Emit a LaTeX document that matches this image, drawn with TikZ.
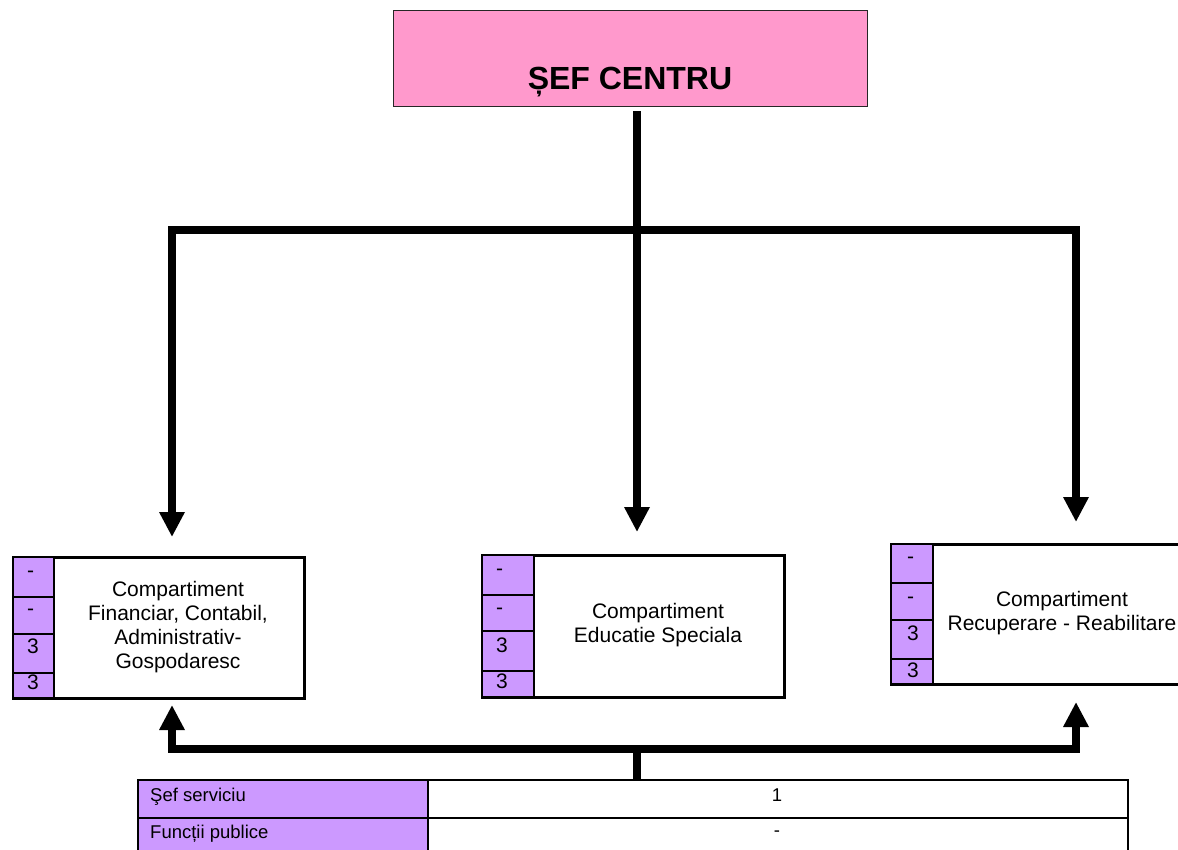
\documentclass[tikz,border=0pt]{standalone}
\usepackage{fontspec}
\setmainfont{Liberation Sans}
\usetikzlibrary{arrows.meta}
\definecolor{chiefpink}{HTML}{FF99CC}
\definecolor{cellviolet}{HTML}{CC99FF}

\begin{document}
\begin{tikzpicture}[x=1pt,y=-1pt,
  conn/.style={line width=7.5pt},
  arr/.style={line width=7.5pt,-{Triangle[width=24pt,length=25pt]}},
  chiefbox/.style={draw=black!85,line width=1.2pt,fill=chiefpink,anchor=north west,inner sep=0pt},
  unitbox/.style={draw=black,line width=2.5pt,fill=white,anchor=north west,inner sep=0pt},
  cell/.style={draw=black,line width=2pt,fill=cellviolet,anchor=north west,inner sep=0pt},
  tcell/.style={draw=black,line width=2pt,anchor=north west,inner sep=0pt,minimum height=38pt},
  unittext/.style={font=\fontsize{21}{24}\selectfont,align=center,inner sep=0pt},
  celltext/.style={font=\fontsize{21}{24}\selectfont,anchor=base west,inner sep=0pt},
  tabtext/.style={font=\fontsize{18.5}{22}\selectfont,inner sep=0pt}
]
\useasboundingbox (0,0) rectangle (1178,850);
\clip (0,0) rectangle (1178,850);

% head of the centre
\node[chiefbox,minimum width=474pt,minimum height=96pt] (chief) at (393,10) {};
\node[font=\fontsize{32}{36}\selectfont\bfseries,anchor=base,inner sep=0pt] (chieftitle) at (630,90) {ȘEF CENTRU};

% compartment: financial / administrative
\node[unitbox,minimum width=291pt,minimum height=141pt] (fin) at (12,556) {};
\node[cell,minimum width=41pt,minimum height=40pt] (fin1) at (12,556) {};
\node[cell,minimum width=41pt,minimum height=37pt] (fin2) at (12,596) {};
\node[cell,minimum width=41pt,minimum height=39pt] (fin3) at (12,633) {};
\node[cell,minimum width=41pt,minimum height=25pt] (fin4) at (12,672) {};
\node[celltext] (fin1t) at (27,577) {-};
\node[celltext] (fin2t) at (27,615) {-};
\node[celltext] (fin3t) at (27,653) {3};
\node[celltext] (fin4t) at (27,689) {3};
\node[unittext] (fintext) at (178,627) {Compartiment\\Financiar, Contabil,\\Administrativ-\\Gospodaresc};

% compartment: special education
\node[unitbox,minimum width=302pt,minimum height=142pt] (edu) at (481,554) {};
\node[cell,minimum width=52pt,minimum height=40pt] (edu1) at (481,554) {};
\node[cell,minimum width=52pt,minimum height=36pt] (edu2) at (481,594) {};
\node[cell,minimum width=52pt,minimum height=40pt] (edu3) at (481,630) {};
\node[cell,minimum width=52pt,minimum height=26pt] (edu4) at (481,670) {};
\node[celltext] (edu1t) at (496,575) {-};
\node[celltext] (edu2t) at (496,614) {-};
\node[celltext] (edu3t) at (496,652) {3};
\node[celltext] (edu4t) at (496,688) {3};
\node[unittext] (edutext) at (658,625) {Compartiment\\Educatie Speciala};

% compartment: recovery / rehabilitation
\node[unitbox,minimum width=302pt,minimum height=140pt] (rec) at (890,543) {};
\node[cell,minimum width=42pt,minimum height=39pt] (rec1) at (890,543) {};
\node[cell,minimum width=42pt,minimum height=37pt] (rec2) at (890,582) {};
\node[cell,minimum width=42pt,minimum height=39pt] (rec3) at (890,619) {};
\node[cell,minimum width=42pt,minimum height=25pt] (rec4) at (890,658) {};
\node[celltext] (rec1t) at (907,563) {-};
\node[celltext] (rec2t) at (907,603) {-};
\node[celltext] (rec3t) at (907,640) {3};
\node[celltext] (rec4t) at (907,677) {3};
\node[unittext] (rectext) at (1062,613) {Compartiment\\Recuperare - Reabilitare};

% staff table
\node[tcell,fill=cellviolet,minimum width=290pt] (t11) at (137,779) {};
\node[tcell,fill=white,minimum width=700pt] (t12) at (427,779) {};
\node[tcell,fill=cellviolet,minimum width=290pt] (t21) at (137,817) {};
\node[tcell,fill=white,minimum width=700pt] (t22) at (427,817) {};
\node[tabtext,anchor=base west] (t11t) at (150,801) {Şef serviciu};
\node[tabtext,anchor=base] (t12t) at (777,801) {1};
\node[tabtext,anchor=base west] (t21t) at (150,838) {Funcții publice};
\node[tabtext,anchor=base] (t22t) at (777,836) {-};

% downward distribution
\coordinate (hubtop) at (637,230);
\coordinate (forkL) at (172,230);
\coordinate (forkR) at (1076,230);
\coordinate (tipL) at (172,537);
\coordinate (tipM) at (637,532);
\coordinate (tipR) at (1076,522);
\draw[conn,shorten <=4pt] (chief.south -| hubtop) -- (hubtop);
\draw[conn,line cap=rect] (forkL) -- (forkR);
\draw[arr] (forkL) -- (tipL);
\draw[arr] (hubtop) -- (tipM);
\draw[arr] (forkR) -- (tipR);

% upward links from the staff table
\coordinate (hubbot) at (637,749);
\coordinate (botL) at (172,749);
\coordinate (botR) at (1076,749);
\coordinate (upL) at (172,705);
\coordinate (upR) at (1076,702);
\draw[conn] (t12.north -| hubbot) -- (hubbot);
\draw[conn,line cap=rect] (botL) -- (botR);
\draw[arr] (botL) -- (upL);
\draw[arr] (botR) -- (upR);
\end{tikzpicture}
\end{document}
